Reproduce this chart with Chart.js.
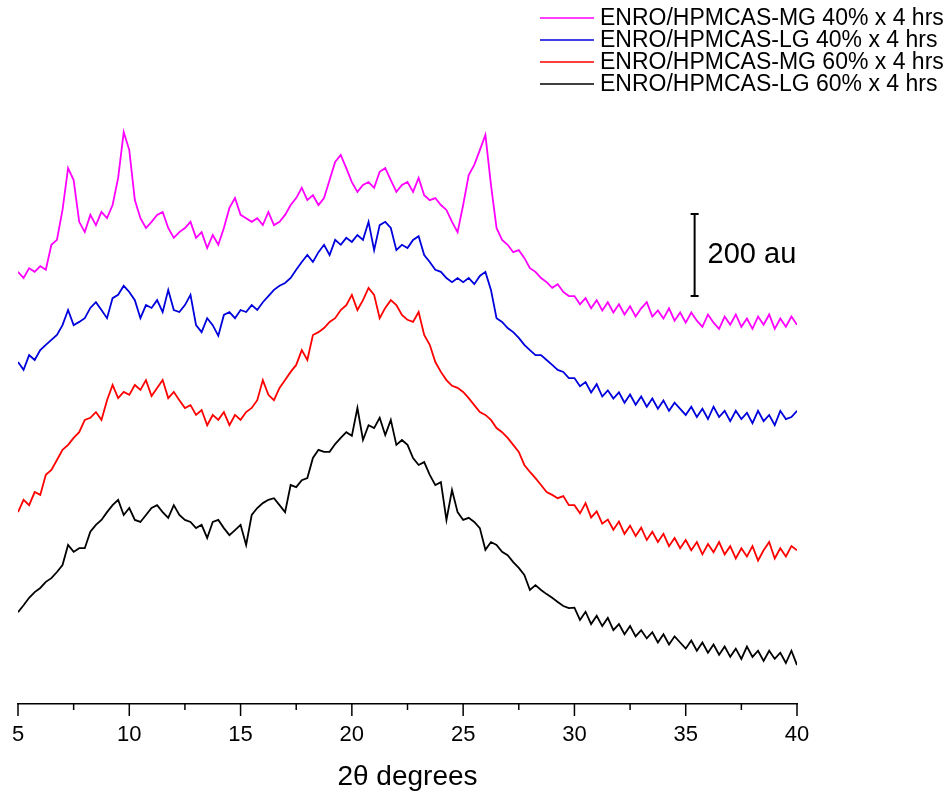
<!DOCTYPE html>
<html>
<head>
<meta charset="utf-8">
<script src="https://cdn.jsdelivr.net/npm/chart.js@4.4.1/dist/chart.umd.min.js"></script>
<style>
  html, body { margin: 0; padding: 0; background: #fff; }
  #wrap { width: 947px; height: 798px; position: relative; }
</style>
</head>
<body>
<div id="wrap"><canvas id="myChart"></canvas></div>
<script>
// 2-theta grid, 5..40 step 0.25
const twoTheta = [];
for (let i = 0; i <= 140; i++) twoTheta.push(5 + i * 0.25);

// intensities (au, offset stacked as in the figure)
const mg40 = [
  1054,1039,1063,1054,1068,1059,1120,1132,1205,1307,1278,1176,1151,1193,1168,1200,1185,1217,1283,1395,
  1351,1229,1185,1161,1176,1193,1200,1161,1137,1151,1161,1176,1137,1151,1112,1144,1120,1161,1210,1234,
  1193,1185,1176,1185,1168,1200,1168,1176,1193,1217,1234,1259,1229,1241,1217,1234,1278,1322,1339,1307,
  1273,1249,1266,1273,1259,1298,1307,1278,1249,1266,1273,1249,1283,1241,1229,1234,1217,1205,1176,1151,
  1217,1290,1315,1351,1388,1266,1161,1132,1120,1102,1107,1088,1063,1054,1039,1029,1015,1024,1005,995,
  995,975,990,965,985,960,980,955,975,950,970,945,965,980,945,960,940,965,935,955,
  930,955,935,920,950,930,915,945,925,950,920,940,915,945,925,950,915,940,920,945,
  925
];
const lg40 = [
  834,815,851,839,863,876,888,900,924,961,924,932,941,966,980,961,941,990,998,1020,
  1005,985,941,973,966,985,956,1010,961,956,973,998,924,907,941,924,898,949,956,941,
  961,956,973,961,980,995,1010,1020,1027,1039,1059,1078,1095,1078,1102,1120,1095,1132,1120,1137,
  1127,1144,1132,1176,1107,1168,1176,1161,1107,1120,1112,1132,1141,1095,1078,1059,1054,1039,1029,1039,
  1029,1039,1024,1044,1054,1010,941,932,917,907,893,876,863,851,851,839,827,815,810,795,
  795,775,785,760,780,750,765,745,760,735,755,730,750,725,745,720,740,715,735,720,
  705,725,700,720,695,725,700,715,690,715,695,710,685,715,690,705,680,715,695,700,
  715
];
const mg60 = [
  468,498,485,517,510,559,571,595,620,632,649,663,693,698,712,693,741,778,746,761,
  754,778,766,790,751,771,790,746,761,741,722,729,705,717,680,705,693,712,680,705,
  693,712,722,741,790,754,741,771,790,810,827,863,839,900,907,917,932,941,961,973,
  998,961,985,1015,998,941,966,985,973,949,937,932,956,900,876,834,810,790,776,771,
  761,746,729,712,705,693,673,663,649,632,615,583,566,551,534,517,510,502,507,485,
  485,465,490,455,470,440,450,425,445,415,435,410,430,400,420,395,415,385,405,380,
  400,375,395,365,390,370,395,365,385,355,380,360,385,350,375,395,355,380,360,385,
  375
];
const lg60 = [
  224,241,259,273,283,298,307,322,339,388,371,380,380,420,437,449,468,485,498,461,
  478,449,444,461,478,485,468,454,485,461,449,444,429,437,405,444,449,429,412,424,
  437,388,461,478,490,498,502,485,468,534,529,546,551,600,620,615,615,634,649,663,
  654,722,644,680,673,698,656,693,632,644,632,600,583,590,559,534,541,449,522,468,
  449,454,444,429,376,395,388,371,363,346,332,315,278,290,278,268,259,249,239,234,
  235,205,225,195,215,190,210,180,195,170,190,165,180,160,175,150,170,145,165,150,
  135,155,130,150,125,145,120,140,115,135,110,140,115,130,105,130,110,125,100,130,
  95
];

const seriesLabels = [
  "ENRO/HPMCAS-MG 40% x 4 hrs",
  "ENRO/HPMCAS-LG 40% x 4 hrs",
  "ENRO/HPMCAS-MG 60% x 4 hrs",
  "ENRO/HPMCAS-LG 60% x 4 hrs"
];
const seriesColors = ["#ff00ff", "#0000dd", "#ff0000", "#000000"];
const seriesValues = [mg40, lg40, mg60, lg60];

const xTicks = [5, 10, 15, 20, 25, 30, 35, 40];
const xMinorTicks = [7.5, 12.5, 17.5, 22.5, 27.5, 32.5, 37.5];

// scale bar: 200 au
const scaleBarX = 35.4;
const scaleBarBase = 995;
const scaleBarSize = 200;

const FONT = "Arial, 'Liberation Sans', sans-serif";

const tickMarks = {
  id: "tickMarks",
  afterDraw(chart) {
    const ctx = chart.ctx;
    const x = chart.scales.x;
    const y0 = chart.chartArea.bottom;
    ctx.save();
    ctx.strokeStyle = "#000";
    ctx.lineWidth = 1.5;
    xTicks.forEach(v => {
      const px = x.getPixelForValue(v);
      ctx.beginPath(); ctx.moveTo(px, y0); ctx.lineTo(px, y0 + 12); ctx.stroke();
    });
    xMinorTicks.forEach(v => {
      const px = x.getPixelForValue(v);
      ctx.beginPath(); ctx.moveTo(px, y0); ctx.lineTo(px, y0 + 6); ctx.stroke();
    });
    ctx.restore();
  }
};

const scaleBar = {
  id: "scaleBar",
  afterDraw(chart) {
    const ctx = chart.ctx;
    const px = chart.scales.x.getPixelForValue(scaleBarX);
    const yb = chart.scales.y.getPixelForValue(scaleBarBase);
    const yt = chart.scales.y.getPixelForValue(scaleBarBase + scaleBarSize);
    ctx.save();
    ctx.strokeStyle = "#000";
    ctx.lineWidth = 2;
    ctx.beginPath();
    ctx.moveTo(px, yb); ctx.lineTo(px, yt);
    ctx.moveTo(px - 4, yb); ctx.lineTo(px + 4, yb);
    ctx.moveTo(px - 4, yt); ctx.lineTo(px + 4, yt);
    ctx.stroke();
    ctx.fillStyle = "#000";
    ctx.font = "29px " + FONT;
    ctx.textBaseline = "middle";
    ctx.fillText(scaleBarSize + " au", px + 13, (yb + yt) / 2);
    ctx.restore();
  }
};

const sideLegend = {
  id: "sideLegend",
  afterDraw(chart) {
    const ctx = chart.ctx;
    ctx.save();
    ctx.font = "23px " + FONT;
    ctx.textBaseline = "middle";
    chart.data.datasets.forEach((ds, i) => {
      const y = 18 + i * 22;
      ctx.strokeStyle = ds.borderColor;
      ctx.lineWidth = 1.5;
      ctx.beginPath(); ctx.moveTo(540, y); ctx.lineTo(594, y); ctx.stroke();
      ctx.fillStyle = "#000";
      ctx.fillText(ds.label, 600, y + 1);
    });
    ctx.restore();
  }
};

const config = {
  type: "line",
  data: {
    datasets: seriesValues.map((vals, i) => ({
      label: seriesLabels[i],
      data: vals.map((v, j) => ({ x: twoTheta[j], y: v })),
      borderColor: seriesColors[i],
      borderWidth: 1.8,
      pointRadius: 0,
      tension: 0,
      fill: false
    }))
  },
  options: {
    responsive: true,
    maintainAspectRatio: false,
    animation: false,
    devicePixelRatio: 1,
    layout: { padding: { left: 18, right: 150, top: 7, bottom: 0 } },
    plugins: { legend: { display: false }, tooltip: { enabled: false } },
    scales: {
      x: {
        type: "linear",
        min: 5,
        max: 40,
        afterFit: s => { s.height = 94; },
        grid: { display: false, drawTicks: true, tickLength: 18 },
        border: { display: true, color: "#000", width: 1.5 },
        ticks: {
          stepSize: 5,
          padding: 0,
          color: "#000",
          font: { family: FONT, size: 22 },
          maxRotation: 0
        },
        title: {
          display: true,
          text: "2θ degrees",
          color: "#000",
          font: { family: FONT, size: 28 },
          padding: { top: 0, bottom: 4 }
        }
      },
      y: {
        display: false,
        min: 0,
        max: 1700
      }
    }
  },
  plugins: [tickMarks, scaleBar, sideLegend]
};

const ctx = document.getElementById("myChart").getContext("2d");
const myChart = new Chart(ctx, config);
</script>
</body>
</html>
